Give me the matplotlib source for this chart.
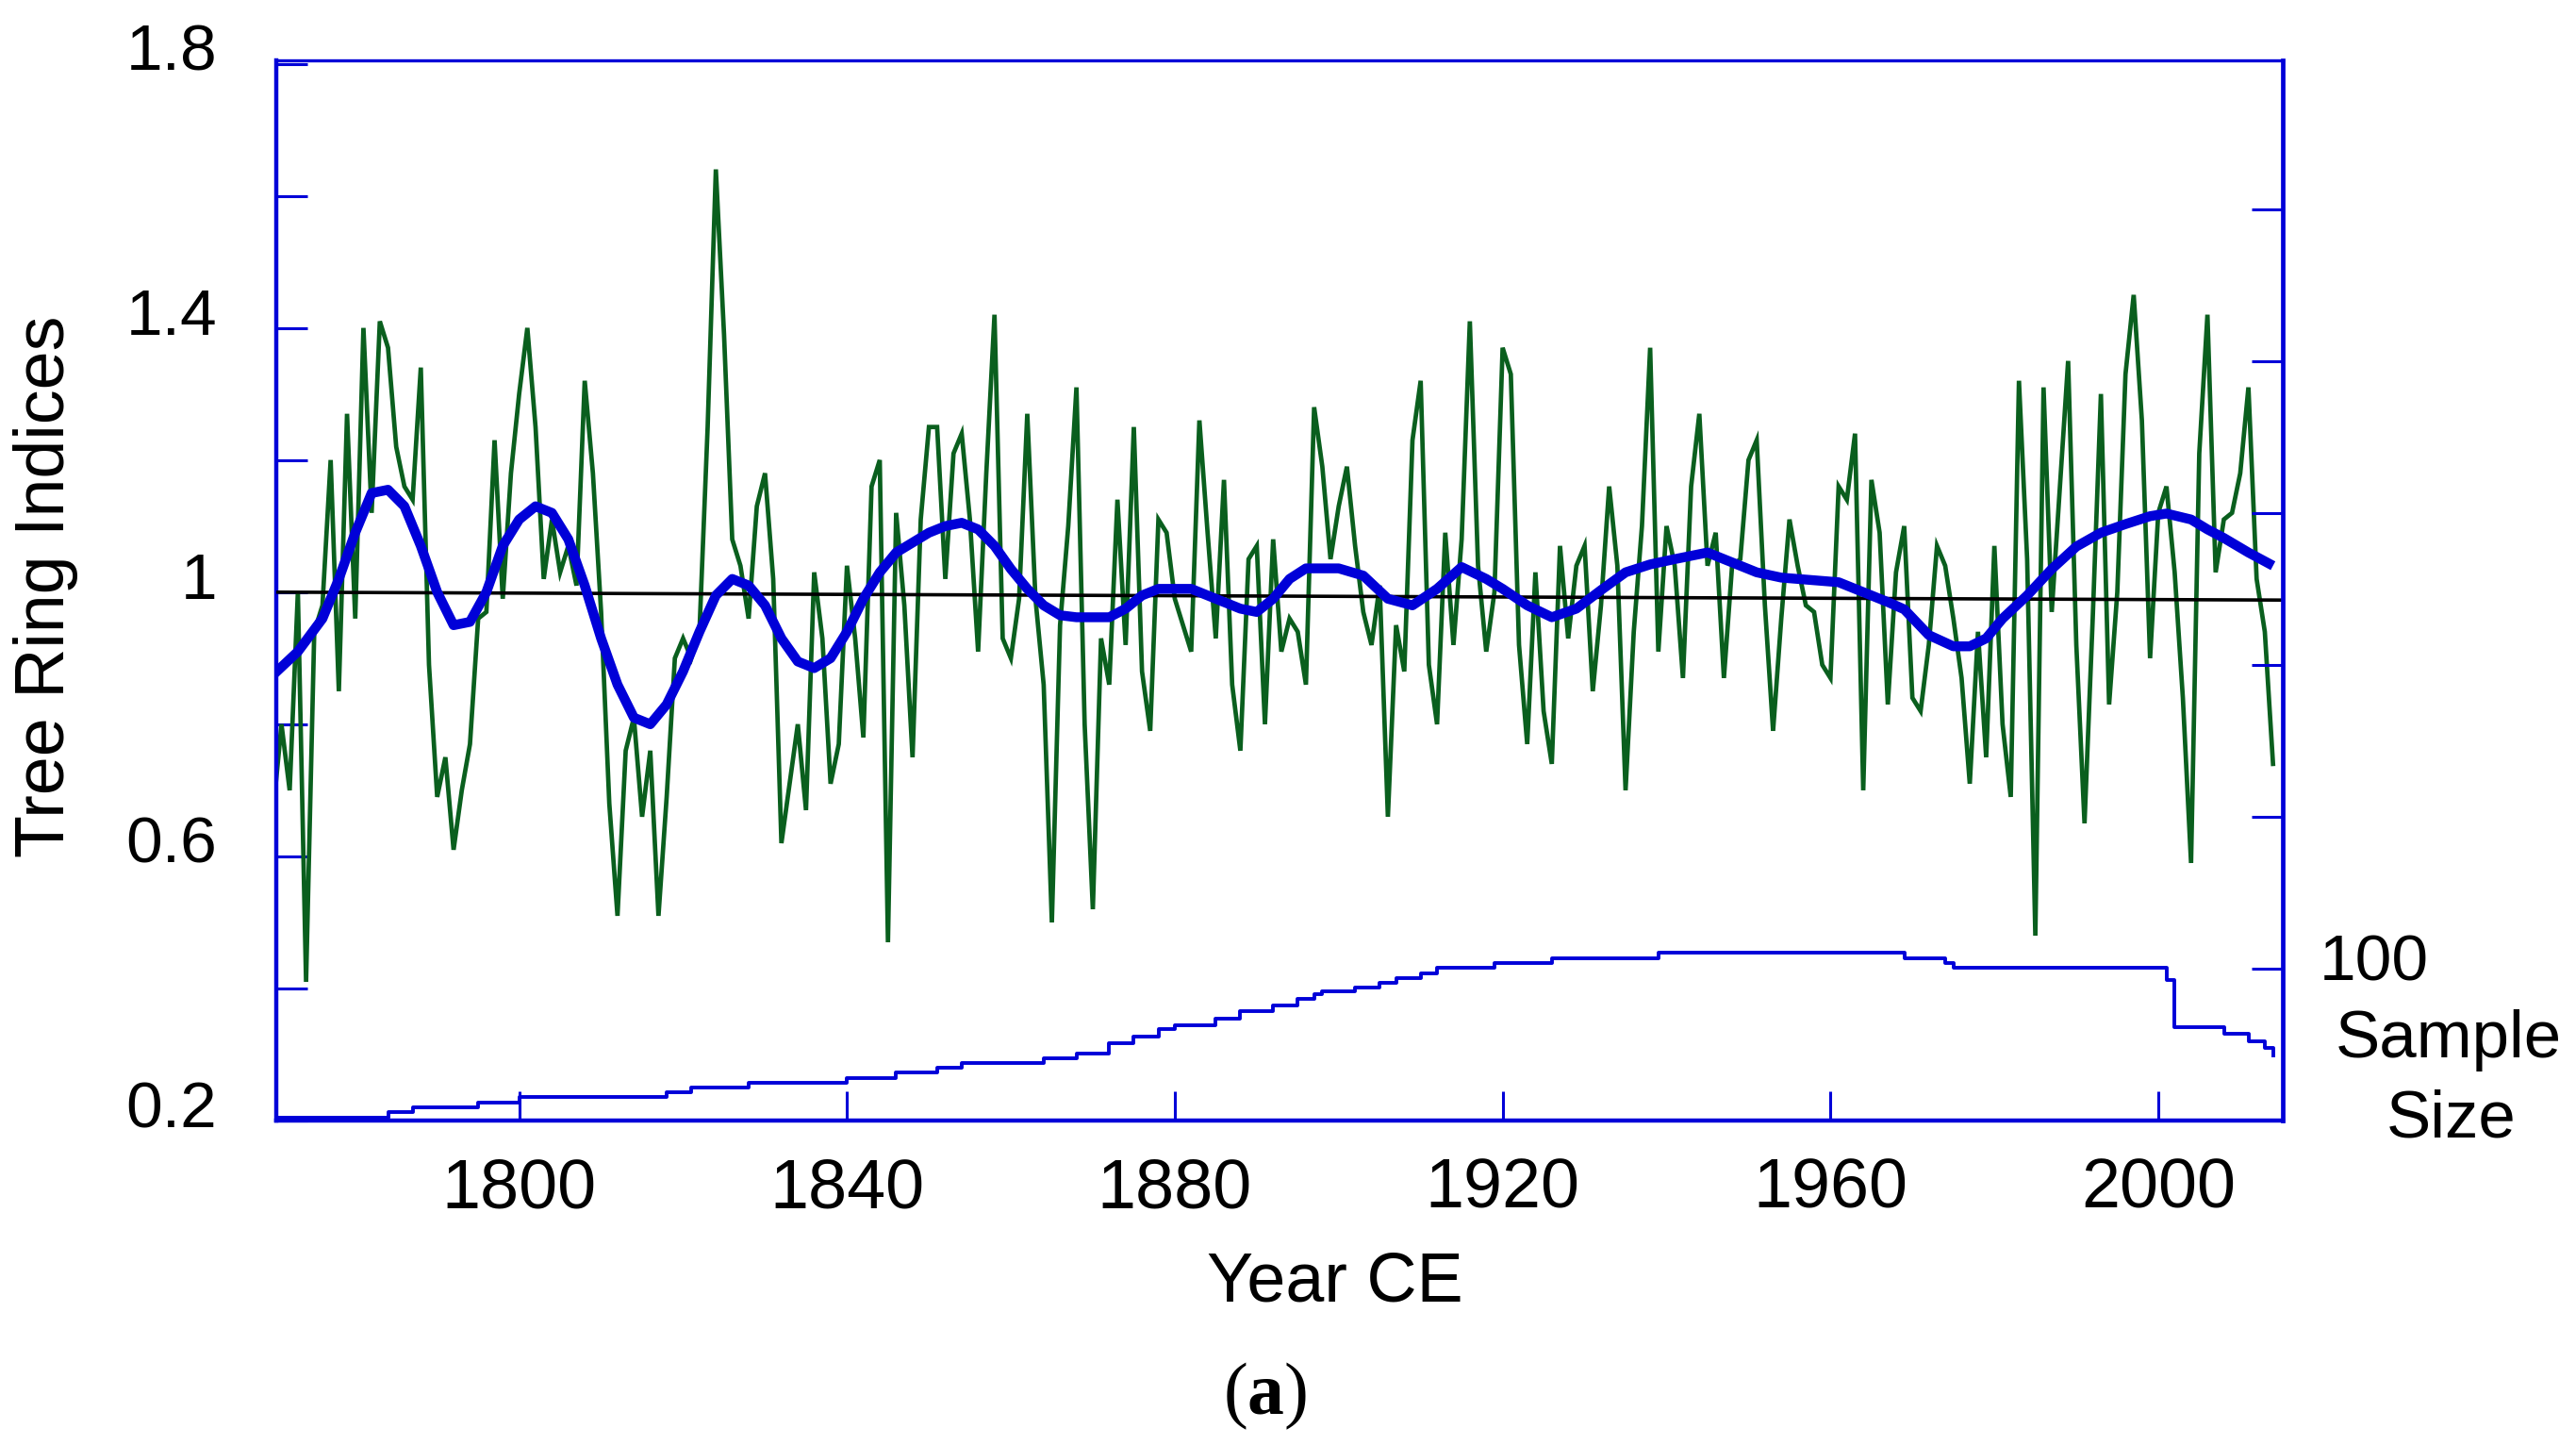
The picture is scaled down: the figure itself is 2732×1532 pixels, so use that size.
import matplotlib
matplotlib.use('Agg')
import matplotlib.pyplot as plt
from matplotlib.transforms import ScaledTranslation
import numpy as np

plt.rcParams['font.family'] = ['Liberation Sans', 'DejaVu Sans']
plt.rcParams['mathtext.fontset'] = 'custom'
plt.rcParams['mathtext.rm'] = 'Liberation Serif'
plt.rcParams['mathtext.bf'] = 'Liberation Serif:bold'

# ---------------- data ----------------
years = list(range(1770, 2015))
ring_index = [
    0.67, 0.80, 0.70, 1.00, 0.41, 0.94, 0.98, 1.20, 0.85, 1.27,   # 1770s
    0.96, 1.40, 1.12, 1.41, 1.37, 1.22, 1.16, 1.14, 1.34, 0.89,   # 1780s
    0.69, 0.75, 0.61, 0.70, 0.77, 0.96, 0.97, 1.23, 0.99, 1.18,   # 1790s
    1.30, 1.40, 1.25, 1.02, 1.11, 1.03, 1.07, 1.01, 1.32, 1.18,   # 1800s
    0.97, 0.68, 0.51, 0.76, 0.81, 0.66, 0.76, 0.51, 0.69, 0.90,   # 1810s
    0.93, 0.90, 0.94, 1.25, 1.64, 1.39, 1.08, 1.04, 0.96, 1.13,   # 1820s
    1.18, 1.02, 0.62, 0.71, 0.80, 0.67, 1.03, 0.93, 0.71, 0.77,   # 1830s
    1.04, 0.93, 0.78, 1.16, 1.20, 0.47, 1.12, 0.98, 0.75, 1.11,   # 1840s
    1.25, 1.25, 1.02, 1.21, 1.24, 1.11, 0.91, 1.18, 1.42, 0.93,   # 1850s
    0.90, 0.99, 1.27, 0.99, 0.86, 0.50, 0.95, 1.10, 1.31, 0.80,   # 1860s
    0.52, 0.93, 0.86, 1.14, 0.92, 1.25, 0.88, 0.79, 1.11, 1.09,   # 1870s
    0.99, 0.95, 0.91, 1.26, 1.09, 0.93, 1.17, 0.86, 0.76, 1.05,   # 1880s
    1.07, 0.80, 1.08, 0.91, 0.96, 0.94, 0.86, 1.28, 1.19, 1.05,   # 1890s
    1.13, 1.19, 1.07, 0.97, 0.92, 1.01, 0.66, 0.95, 0.88, 1.23,   # 1900s
    1.32, 0.89, 0.80, 1.09, 0.92, 1.08, 1.41, 1.04, 0.91, 1.00,   # 1910s
    1.37, 1.33, 0.92, 0.77, 1.03, 0.82, 0.74, 1.07, 0.93, 1.04,   # 1920s
    1.07, 0.85, 0.98, 1.16, 1.04, 0.70, 0.94, 1.10, 1.37, 0.91,   # 1930s
    1.10, 1.04, 0.87, 1.16, 1.27, 1.04, 1.09, 0.87, 1.04, 1.05,   # 1940s
    1.20, 1.23, 0.98, 0.79, 0.96, 1.11, 1.04, 0.98, 0.97, 0.89,   # 1950s
    0.87, 1.16, 1.14, 1.24, 0.70, 1.17, 1.09, 0.83, 1.03, 1.10,   # 1960s
    0.84, 0.82, 0.92, 1.07, 1.04, 0.96, 0.87, 0.71, 0.94, 0.75,   # 1970s
    1.07, 0.80, 0.69, 1.32, 1.05, 0.48, 1.31, 0.97, 1.16, 1.35,   # 1980s
    0.92, 0.65, 0.96, 1.30, 0.83, 1.00, 1.33, 1.45, 1.26, 0.90,   # 1990s
    1.12, 1.16, 1.03, 0.84, 0.59, 1.21, 1.42, 1.03, 1.11, 1.12,   # 2000s
    1.18, 1.31, 1.02, 0.94, 0.74,                                 # 2010s
]

spline_years = [1770, 1773, 1776, 1778, 1780, 1782, 1784, 1786, 1788, 1790,
                1792, 1794, 1796, 1798, 1800, 1802, 1804, 1806, 1808, 1810,
                1812, 1814, 1816, 1818, 1820, 1822, 1824, 1826, 1828, 1830,
                1832, 1834, 1836, 1838, 1840, 1842, 1844, 1846, 1848, 1850,
                1852, 1854, 1856, 1858, 1860, 1862, 1864, 1866, 1868, 1872,
                1874, 1876, 1878, 1882, 1885, 1888, 1890, 1892, 1894, 1896,
                1900, 1903, 1906, 1909, 1912, 1915, 1918, 1920, 1923, 1926,
                1929, 1932, 1935, 1938, 1941, 1945, 1948, 1951, 1954, 1958,
                1961, 1964, 1967, 1969, 1972, 1975, 1977, 1979, 1981, 1984,
                1987, 1990, 1993, 1996, 1999, 2001, 2004, 2006, 2008, 2011,
                2014]
spline_vals = [0.875, 0.91, 0.96, 1.02, 1.09, 1.15, 1.155, 1.13, 1.07, 1.00,
               0.95, 0.955, 1.00, 1.07, 1.11, 1.13, 1.12, 1.08, 1.01, 0.93,
               0.86, 0.81, 0.80, 0.83, 0.88, 0.94, 0.995, 1.02, 1.01, 0.98,
               0.93, 0.895, 0.885, 0.90, 0.94, 0.99, 1.03, 1.06, 1.075, 1.09,
               1.10, 1.105, 1.095, 1.07, 1.035, 1.005, 0.98, 0.965, 0.962, 0.962,
               0.975, 0.995, 1.005, 1.005, 0.99, 0.975, 0.97, 0.99, 1.02, 1.036,
               1.036, 1.025, 0.99, 0.98, 1.005, 1.038, 1.02, 1.005, 0.98, 0.962,
               0.975, 1.003, 1.03, 1.042, 1.05, 1.06, 1.045, 1.03, 1.022, 1.018,
               1.015, 1.0, 0.985, 0.974, 0.935, 0.918, 0.918, 0.93, 0.96, 0.995,
               1.035, 1.069, 1.09, 1.103, 1.115, 1.119, 1.11, 1.095, 1.082, 1.06,
               1.04]

sample_years = [1770, 1784, 1787, 1795, 1800, 1818, 1821, 1828, 1840, 1846,
                1851, 1854, 1864, 1868, 1872, 1875, 1878, 1880, 1885, 1888,
                1892, 1895, 1897, 1898, 1902, 1905, 1907, 1910, 1912, 1919,
                1926, 1939, 1969, 1974, 1975, 2001, 2002, 2008, 2011, 2013,
                2014]
sample_counts = [2, 5.6, 9, 12, 15.5, 18.6, 22, 25, 28, 31.7,
                 35, 38, 41, 44, 51, 55, 60, 63, 67, 72,
                 76, 80, 83, 85, 87.6, 91, 94, 97, 100.6, 104,
                 107, 110.4, 107, 104, 100.6, 92.5, 61.8, 57, 52, 48,
                 43]

mean_line_years = [1770.35, 2015.2]
mean_line_vals = [1.0, 0.988]

ytick_vals = [0.2, 0.4, 0.6, 0.8, 1.0, 1.2, 1.4, 1.6, 1.8]
ytick_labels = ['0.2', '', '0.6', '', '1', '', '1.4', '', '1.8']
xtick_vals = [1800, 1840, 1880, 1920, 1960, 2000]
xtick_labels = ['1800', '1840', '1880', '1920', '1960', '2000']
right_tick_vals = [100, 200, 300, 400, 500, 600]

# ---------------- style ----------------
BLUE = '#0000d8'
GREEN = '#0a5f1e'

fig = plt.figure(figsize=(27.32, 15.32), dpi=100)
ax = fig.add_axes([0.1072, 0.2245, 0.8862 - 0.1072, 0.9582 - 0.2245])
ax2 = ax.twinx()

ax.plot(years, ring_index, color=GREEN, lw=3.4, zorder=2, solid_joinstyle='miter')
ax.plot(mean_line_years, mean_line_vals, color='black', lw=2.6, zorder=3)
ax.plot(spline_years, spline_vals, color=BLUE, lw=7.5, zorder=4,
        solid_capstyle='butt', solid_joinstyle='round')

ax2.plot(sample_years, sample_counts, color=BLUE, lw=2.8, drawstyle='steps-post')

ax.set_xlim(1770.35, 2015.2)
ax.set_ylim(0.2, 1.805)
ax2.set_ylim(0, 698)

ax.set_yticks(ytick_vals)
ax.set_yticklabels(ytick_labels)
ax.set_xticks(xtick_vals)
ax.set_xticklabels(xtick_labels)
ax2.set_yticks(right_tick_vals)
ax2.set_yticklabels([])

ax.tick_params(axis='y', direction='in', length=24, width=2.2, color=BLUE,
               labelsize=50, pad=45, labelcolor='black')
ax.tick_params(axis='x', direction='in', length=22, width=2.2, color=BLUE,
               labelsize=53, pad=28, labelcolor='black')
ax2.tick_params(axis='y', direction='in', length=24, width=2.2, color=BLUE)

for lab in ax.get_yticklabels():
    lab.set_transform(lab.get_transform() + ScaledTranslation(0, 18 / 100, fig.dpi_scale_trans))

for s in ['left', 'bottom', 'top']:
    ax.spines[s].set_color(BLUE)
    ax.spines[s].set_linewidth(3.2)
ax.spines['top'].set_linewidth(2.4)
ax.spines['right'].set_visible(False)
for s in ['left', 'bottom', 'top']:
    ax2.spines[s].set_visible(False)
ax2.spines['right'].set_color(BLUE)
ax2.spines['right'].set_linewidth(3.4)

fig.text(49 / 2732, 1 - 622 / 1532, 'Tree Ring Indices', rotation=90,
         ha='center', va='center', fontsize=53)
fig.text(1416 / 2732, 1 - 1360 / 1532, 'Year CE', ha='center', va='center', fontsize=53)
fig.text(2460 / 2732, 1 - 1021 / 1532, '100', ha='left', va='center', fontsize=50)
fig.text(2597 / 2732, 1 - 1103 / 1532, 'Sample', ha='center', va='center', fontsize=51)
fig.text(2600 / 2732, 1 - 1188 / 1532, 'Size', ha='center', va='center', fontsize=51)
fig.text(1342 / 2732, 1 - 1480 / 1532, r'($\mathbf{a}$)', ha='center', va='center',
         fontsize=56, family='Liberation Serif')

fig.savefig('out.png', dpi=100)
